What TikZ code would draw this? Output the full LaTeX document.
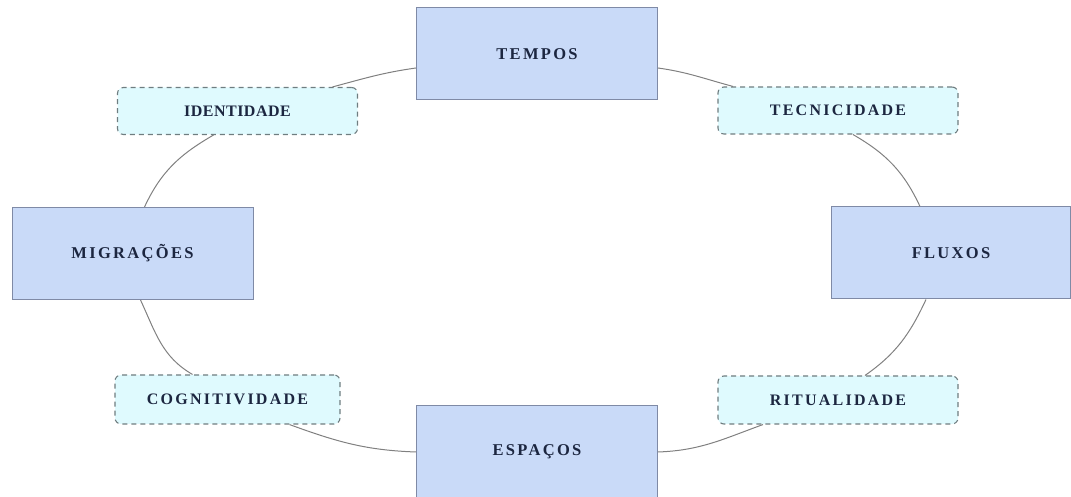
\documentclass[tikz,border=0pt]{standalone}
\usepackage{fontspec}
\setmainfont{Liberation Serif}
\usetikzlibrary{calc}
\definecolor{bigfill}{HTML}{C9DAF8}
\definecolor{bigline}{HTML}{7F8AA6}
\definecolor{smallfill}{HTML}{DFFAFE}
\definecolor{smallline}{HTML}{6F7D80}
\definecolor{txt}{HTML}{1C2640}
\definecolor{link}{HTML}{808080}
\begin{document}
\begin{tikzpicture}[x=1pt,y=1pt,
  bigbox/.style={draw=bigline,line width=1pt,fill=bigfill,minimum width=241pt,minimum height=92pt,inner sep=0pt,
    font=\fontsize{16.5}{19}\selectfont\bfseries\addfontfeatures{LetterSpace=14},text=txt},
  smallbox/.style={draw=smallline,line width=1.1pt,fill=smallfill,dash pattern=on 5pt off 4pt,rounded corners=6pt,
    minimum width=240pt,minimum height=47pt,inner sep=0pt,
    font=\fontsize{16}{19}\selectfont\bfseries\addfontfeatures{LetterSpace=14},text=txt},
  linkline/.style={draw=link,line width=1pt}]
\useasboundingbox (0,0) rectangle (1071,497);
\node[bigbox] (tempos) at (537,443) {TEMPOS};
\node[bigbox] (migr) at (132.5,243.5) {MIGRAÇÕES};
\node[bigbox,minimum width=239pt] (flux) at (951,244) {FLUXOS};
\node[bigbox] (esp) at (537,45) {ESPAÇOS};
\node[smallbox,font=\fontsize{16}{19}\selectfont\bfseries\addfontfeatures{LetterSpace=3}] (iden) at (237.5,386) {IDENTIDADE};
\node[smallbox] (tecn) at (838,386.5) {TECNICIDADE};
\node[smallbox,minimum width=225pt,minimum height=49pt] (cogn) at (227.5,97.5) {COGNITIVIDADE};
\node[smallbox,minimum height=48pt] (ritu) at (838,97) {RITUALIDADE};
\path[linkline] ($(tempos.west)+(0,-14)$) to[out=188,in=15] ($(iden.north)+(95,0)$);
\path[linkline] ($(iden.south)+(-24,0)$) to[out=210,in=65] ($(migr.north)+(12,0)$);
\path[linkline] ($(migr.south)+(8,0)$) to[out=-65,in=150] ($(cogn.north)+(-35,0)$);
\path[linkline] ($(cogn.south)+(62,0)$) to[out=-20,in=178] (esp.west);
\path[linkline] (esp.east) to[out=2,in=200] ($(ritu.south)+(-75,0)$);
\path[linkline] ($(ritu.north)+(27,0)$) to[out=35,in=245] ($(flux.south)+(-25,0)$);
\path[linkline] ($(flux.north)+(-31,0)$) to[out=115,in=-30] ($(tecn.south)+(15,0)$);
\path[linkline] ($(tecn.north)+(-105,0)$) to[out=165,in=-8] ($(tempos.east)+(0,-14)$);
\end{tikzpicture}
\end{document}
